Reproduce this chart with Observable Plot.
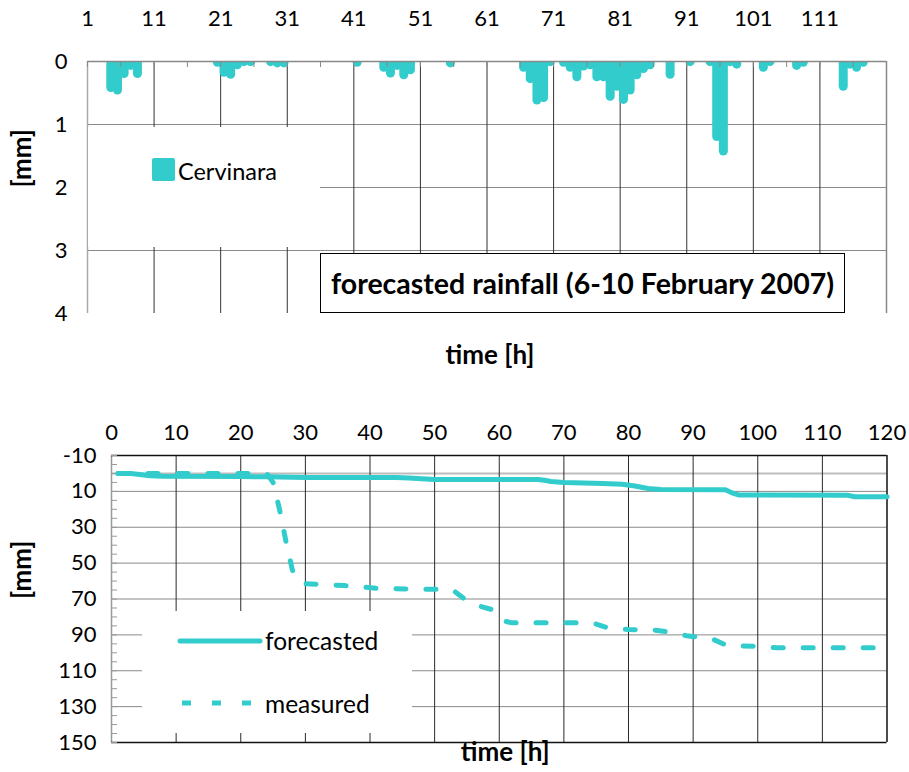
<!DOCTYPE html>
<html>
<head>
<meta charset="utf-8">
<script src="https://cdn.jsdelivr.net/npm/d3@7"></script>
<script src="https://cdn.jsdelivr.net/npm/@observablehq/plot@0.6"></script>
<style>
  body { margin: 0; background: #fff; font-family: Lato, "Open Sans", sans-serif; }
  #wrap { position: relative; width: 909px; height: 772px; overflow: hidden; background: #fff; }
  #wrap svg { display: block; }
  .box { position: absolute; background: #fff; }
  .lbl { position: absolute; white-space: nowrap; color: #000; line-height: 1; }
</style>
</head>
<body>
<div id="wrap"></div>
<script>
// Hourly forecasted rainfall at Cervinara, hours 1..120 [mm]
const rainfall = [
  0, 0, 0, 0.42, 0.46, 0.20, 0.07, 0.20, 0, 0,
  0, 0, 0, 0, 0, 0, 0, 0, 0, 0.02,
  0.18, 0.21, 0.06, 0.01, 0.01, 0, 0, 0.01, 0.03, 0.03,
  0, 0, 0, 0, 0, 0, 0, 0, 0, 0,
  0.02, 0, 0, 0, 0.10, 0.19, 0.07, 0.22, 0.14, 0,
  0, 0, 0, 0, 0.03, 0, 0, 0, 0, 0,
  0, 0, 0, 0, 0, 0.10, 0.28, 0.62, 0.58, 0.01,
  0, 0.02, 0.10, 0.25, 0.08, 0.06, 0.25, 0.25, 0.56, 0.40,
  0.61, 0.46, 0.22, 0.12, 0.06, 0, 0, 0.21, 0, 0,
  0.01, 0, 0, 0.01, 1.20, 1.43, 0.01, 0.05, 0, 0,
  0, 0.10, 0.01, 0, 0, 0, 0.07, 0.02, 0, 0,
  0, 0, 0, 0.40, 0.05, 0.10, 0.02, 0, 0, 0
];

// Cumulative rainfall [mm]: forecasted and measured
const forecastHour = [1, 3, 4, 5, 6, 8, 20, 24, 30, 44, 46, 48, 50, 66, 67, 68, 70, 73, 76, 79, 81, 83, 85, 95, 96, 97, 114, 115, 120];
const forecastMm   = [0, 0, 0.4, 0.9, 1.3, 1.6, 1.7, 1.9, 2.2, 2.3, 2.6, 3.0, 3.35, 3.35, 3.8, 4.5, 5.0, 5.3, 5.6, 6.0, 7.0, 8.4, 8.9, 9.1, 10.8, 12.0, 12.2, 13.0, 13.0];
const measuredHour = [1, 24, 25, 26, 27, 28, 29, 30, 36, 41, 46, 52, 53, 55, 57, 59, 60, 61, 62, 73, 75, 77, 80, 84, 86, 89, 91, 93, 95, 97, 100, 103, 120];
const measuredMm   = [0, 0, 5, 20, 38, 54, 60, 61.5, 62.5, 64, 64.5, 64.5, 65.5, 71, 74, 76, 78.5, 82.5, 83.3, 83.3, 84, 86.3, 87, 87.3, 88.3, 90.5, 91.3, 92.3, 95.6, 96.2, 96.4, 97.2, 97.2];

// Axis ticks
const rainHourTicks = [1, 11, 21, 31, 41, 51, 61, 71, 81, 91, 101, 111];
const rainMmTicks = [0, 1, 2, 3, 4];
const cumHourTicks = [0, 10, 20, 30, 40, 50, 60, 70, 80, 90, 100, 110, 120];
const cumMmTicks = [-10, 10, 30, 50, 70, 90, 110, 130, 150];

const CYAN = "#33cccc";
const FONT = "Lato, 'Open Sans', sans-serif";
const TICK_FS = 22;
const TITLE_FS = 26;
const wrap = document.getElementById("wrap");

// ---------- hourly rainfall bars ----------
const W = 909;
const barDims = {h: 380, mt: 61, mb: 67, ml: 87, mr: 23};
const barFrameH = barDims.h - barDims.mt - barDims.mb;
const rainRows = rainfall.map((v, i) => ({hour: i + 1, mm: v})).filter(d => d.mm > 0);

const rainPlot = Plot.plot({
  width: W, height: barDims.h,
  marginTop: barDims.mt, marginBottom: barDims.mb, marginLeft: barDims.ml, marginRight: barDims.mr,
  style: {fontFamily: FONT, fontSize: TICK_FS + "px", color: "#000", background: "transparent", overflow: "visible"},
  x: {domain: [1, 121], axis: null},
  y: {domain: [0, 4], reverse: true, axis: null},
  marks: [
    Plot.ruleY([1, 2, 3], {stroke: "#8a8a8a", strokeWidth: 1}),
    Plot.ruleX(rainHourTicks.slice(1), {stroke: "#333", strokeWidth: 1}),
    Plot.ruleX([1], {stroke: "#aaa", strokeWidth: 1.5}),
    Plot.ruleX([121], {stroke: "#888", strokeWidth: 1.5}),
    Plot.ruleX(rainRows, {
      x: d => d.hour + 0.5, y1: 0, y2: "mm",
      stroke: CYAN, strokeWidth: 9, strokeLinecap: "round", clip: true
    }),
    Plot.ruleY([0], {stroke: "#888", strokeWidth: 1.5}),
    Plot.ruleX(d3.range(1, 122, 5), {stroke: "#888", strokeWidth: 1, insetBottom: barFrameH - 6}),
    Plot.text(rainHourTicks, {x: d => d, text: d => String(d), frameAnchor: "top", lineAnchor: "middle", dy: -43, fontSize: TICK_FS}),
    Plot.text(rainMmTicks, {y: d => d, text: d => String(d), frameAnchor: "left", textAnchor: "end", dx: -20, fontSize: TICK_FS}),
    Plot.text(["time [h]"], {frameAnchor: "bottom", lineAnchor: "middle", dy: 42, dx: 3, fontWeight: "bold", fontSize: TITLE_FS}),
    Plot.text(["[mm]"], {frameAnchor: "left", lineAnchor: "middle", dx: -65, rotate: -90, fontWeight: "bold", fontSize: TITLE_FS})
  ]
});
wrap.appendChild(rainPlot);

// ---------- cumulative rainfall lines ----------
const lineDims = {h: 392, mt: 75, mb: 30, ml: 111, mr: 22.5};
const lineFrameW = W - lineDims.ml - lineDims.mr;
const forecastRows = forecastHour.map((h, i) => ({hour: h, mm: forecastMm[i]}));
const measuredRows = measuredHour.map((h, i) => ({hour: h, mm: measuredMm[i]}));

const cumPlot = Plot.plot({
  width: W, height: lineDims.h,
  marginTop: lineDims.mt, marginBottom: lineDims.mb, marginLeft: lineDims.ml, marginRight: lineDims.mr,
  style: {fontFamily: FONT, fontSize: TICK_FS + "px", color: "#000", background: "transparent", overflow: "visible"},
  x: {domain: [0, 120], axis: null},
  y: {domain: [-10, 150], reverse: true, axis: null},
  marks: [
    Plot.ruleY(cumMmTicks.slice(1, -1), {stroke: "#8a8a8a", strokeWidth: 1}),
    Plot.ruleY([0], {stroke: "#bdbdbd", strokeWidth: 2}),
    Plot.ruleX(cumHourTicks.slice(1, -1), {stroke: "#2a2a2a", strokeWidth: 1}),
    Plot.ruleX([0], {stroke: "#999", strokeWidth: 1.5}),
    Plot.ruleX([120], {stroke: "#111", strokeWidth: 1.5}),
    Plot.ruleY([-10, 150], {stroke: "#111", strokeWidth: 1.5}),
    Plot.ruleY(d3.range(-10, 151, 5), {stroke: "#999", strokeWidth: 1, insetRight: lineFrameW - 6}),
    Plot.line(forecastRows, {x: "hour", y: "mm", stroke: CYAN, strokeWidth: 5, strokeLinecap: "round", strokeLinejoin: "round"}),
    Plot.line(measuredRows, {x: "hour", y: "mm", stroke: CYAN, strokeWidth: 5, strokeDasharray: "10,20", strokeLinejoin: "round"}),
    Plot.text(cumHourTicks, {x: d => d, text: d => String(d), frameAnchor: "top", lineAnchor: "middle", dy: -23, fontSize: TICK_FS}),
    Plot.text(cumMmTicks, {y: d => d, text: d => String(d), frameAnchor: "left", textAnchor: "end", dx: -15, fontSize: TICK_FS}),
    Plot.text(["time [h]"], {frameAnchor: "bottom", lineAnchor: "middle", dy: 10, dx: 6, fontWeight: "bold", fontSize: TITLE_FS}),
    Plot.text(["[mm]"], {frameAnchor: "left", lineAnchor: "middle", dx: -89, rotate: -90, fontWeight: "bold", fontSize: TITLE_FS})
  ]
});
wrap.appendChild(cumPlot);

// ---------- legends and title box ----------
function addBox(style, html) {
  const d = document.createElement("div");
  d.className = "box";
  Object.assign(d.style, style);
  if (html) d.innerHTML = html;
  wrap.appendChild(d);
  return d;
}

// legend of the bar chart
addBox({left: "88px", top: "127px", width: "232px", height: "120px"},
  `<div style="position:absolute;left:64px;top:31px;width:23px;height:23px;background:${CYAN};border-radius:2px"></div>
   <div class="lbl" style="left:90px;top:33px;font-size:23.5px">Cervinara</div>`);

// title of the bar chart
addBox({left: "320px", top: "253px", width: "523px", height: "58px", border: "1px solid #000",
        display: "flex", alignItems: "center", justifyContent: "center"},
  `<span style="font-weight:bold;font-size:28.5px;white-space:nowrap;line-height:1">forecasted rainfall (6-10 February 2007)</span>`);

// legend of the cumulative chart
addBox({left: "142px", top: "611px", width: "270px", height: "122px"},
  `<svg width="270" height="122" style="position:absolute;left:0;top:0">
     <line x1="38" y1="30" x2="118" y2="30" stroke="${CYAN}" stroke-width="5" stroke-linecap="round"/>
     <line x1="40" y1="92" x2="109" y2="92" stroke="${CYAN}" stroke-width="5" stroke-dasharray="9,21"/>
   </svg>
   <div class="lbl" style="left:123px;top:18px;font-size:24.5px">forecasted</div>
   <div class="lbl" style="left:123px;top:81px;font-size:24.5px">measured</div>`);
</script>
</body>
</html>
